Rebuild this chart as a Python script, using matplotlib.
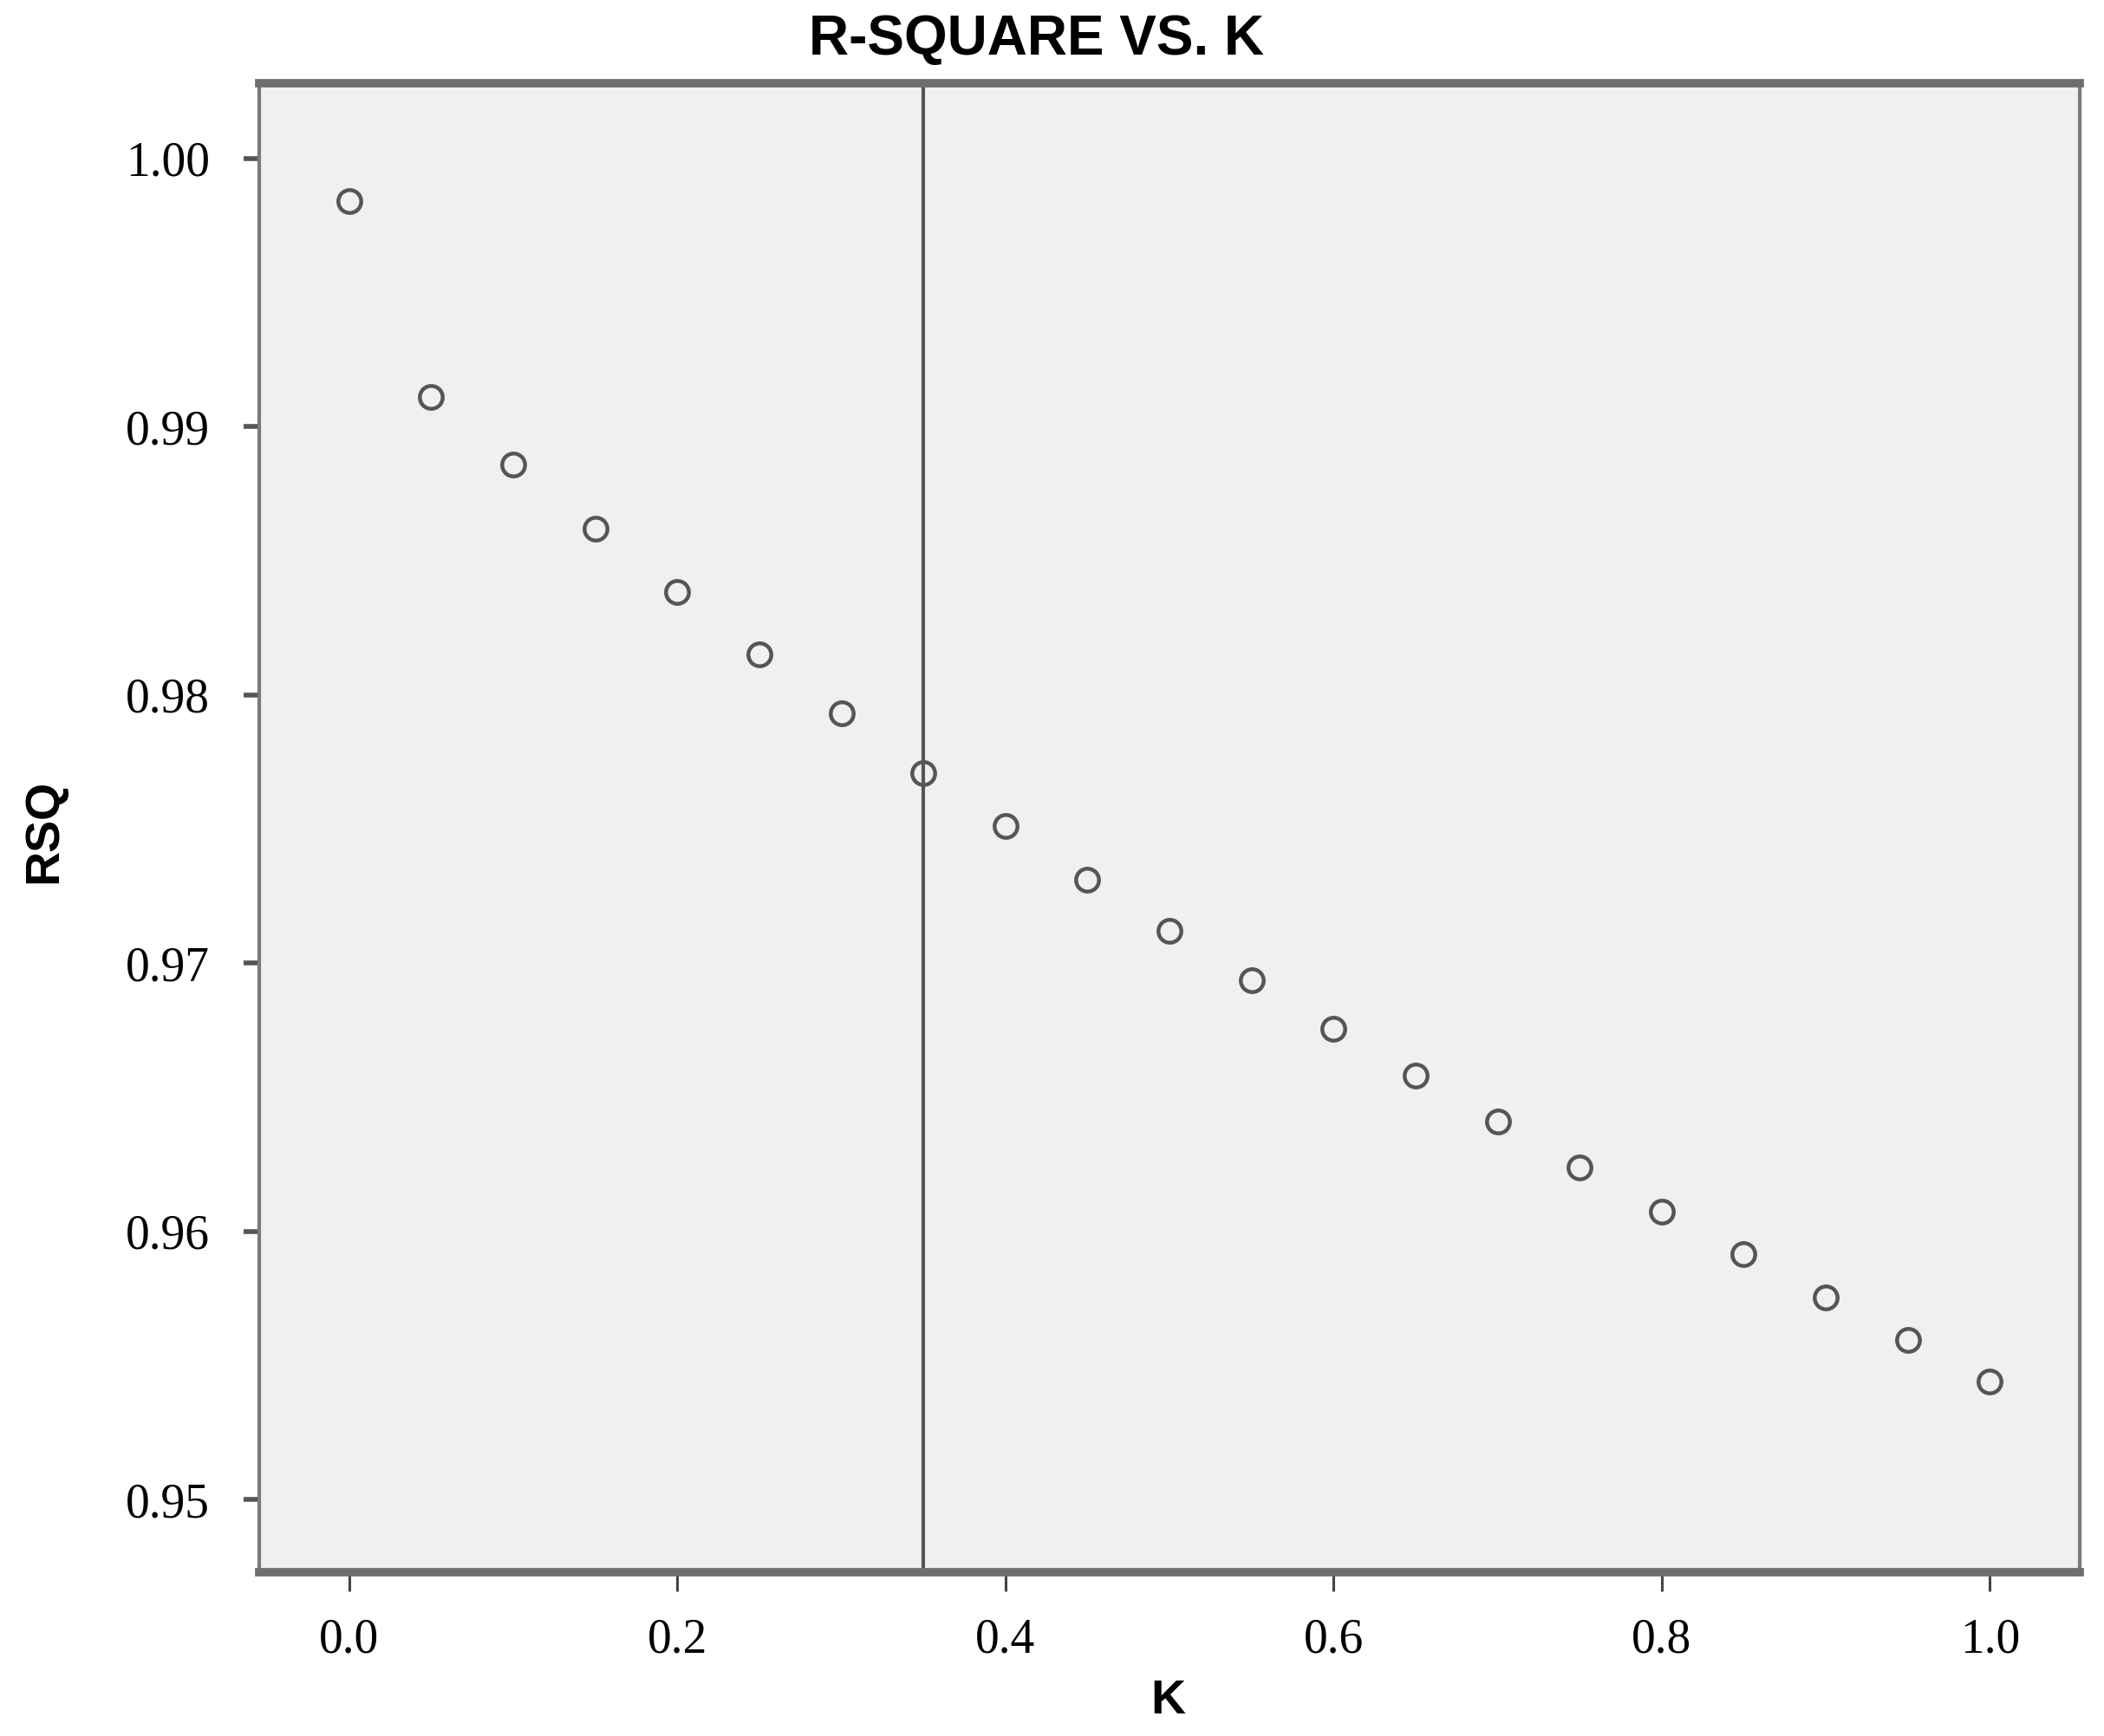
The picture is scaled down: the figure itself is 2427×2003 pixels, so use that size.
import matplotlib.pyplot as plt
import numpy as np

# data
k_values = [0.00, 0.05, 0.10, 0.15, 0.20, 0.25, 0.30, 0.35, 0.40, 0.45, 0.50,
            0.55, 0.60, 0.65, 0.70, 0.75, 0.80, 0.85, 0.90, 0.95, 1.00]
rsq_values = [0.9984, 0.9911, 0.9886, 0.9862, 0.98385, 0.9815, 0.9793, 0.9771,
              0.9751, 0.9731, 0.9712, 0.96935, 0.96755, 0.9658, 0.9641, 0.9624,
              0.96075, 0.95915, 0.95755, 0.95595, 0.9544]
k_chosen = 0.35

x_ticks = [0.0, 0.2, 0.4, 0.6, 0.8, 1.0]
x_tick_labels = ["0.0", "0.2", "0.4", "0.6", "0.8", "1.0"]
y_ticks = [0.95, 0.96, 0.97, 0.98, 0.99, 1.00]
y_tick_labels = ["0.95", "0.96", "0.97", "0.98", "0.99", "1.00"]

fig = plt.figure(figsize=(24.27, 20.03), dpi=100)
ax = fig.add_axes([0.1232, 0.0944, 0.8653, 0.8576])
ax.set_facecolor("#f0f0f0")

ax.axvline(k_chosen, color="#555555", linewidth=3.0, zorder=2)
ax.plot(k_values, rsq_values, linestyle="none", marker="o", markersize=19,
        markerfacecolor="none", markeredgecolor="#555555", markeredgewidth=3.2,
        zorder=3)

ax.set_xlim(-0.0548, 1.0548)
ax.set_ylim(0.9473, 1.0028)

ax.set_xticks(x_ticks)
ax.set_xticklabels(x_tick_labels, family="Liberation Serif", fontsize=40)
ax.set_yticks(y_ticks)
ax.set_yticklabels(y_tick_labels, family="Liberation Serif", fontsize=40)
ax.tick_params(axis="x", length=16, width=2.2, color="#444444", pad=22)
ax.tick_params(axis="y", length=13, width=4, color="#555555", pad=28)

for side in ["top", "bottom"]:
    ax.spines[side].set_linewidth(7)
    ax.spines[side].set_color("#6e6e6e")
for side in ["left", "right"]:
    ax.spines[side].set_linewidth(3)
    ax.spines[side].set_color("#7a7a7a")

fig.text(0.4925, 0.977, "R-SQUARE VS. K", ha="center", va="center",
         family="Liberation Sans", fontweight="bold", fontsize=46)
fig.text(0.555, 0.020, "K", ha="center", va="center",
         family="Liberation Sans", fontweight="bold", fontsize=40)
fig.text(0.021, 0.521, "RSQ", ha="center", va="center", rotation=90,
         family="Liberation Sans", fontweight="bold", fontsize=40)

fig.savefig("out.png", dpi=100)
